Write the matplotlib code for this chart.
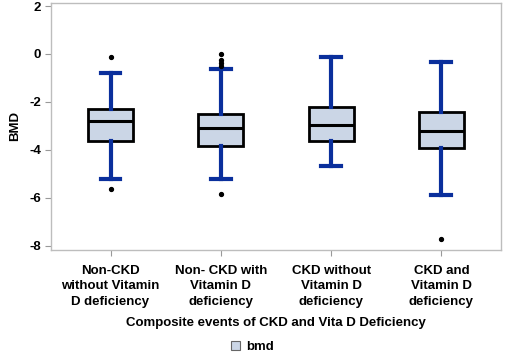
import matplotlib
matplotlib.use("Agg")
import matplotlib.pyplot as plt
from matplotlib.patches import Patch

categories = ["Non-CKD\nwithout Vitamin\nD deficiency",
              "Non- CKD with\nVitamin D\ndeficiency",
              "CKD without\nVitamin D\ndeficiency",
              "CKD and\nVitamin D\ndeficiency"]
q1 = [-3.64, -3.82, -3.64, -3.92]
med = [-2.80, -3.10, -2.96, -3.21]
q3 = [-2.29, -2.50, -2.21, -2.42]
whislo = [-5.21, -5.21, -4.69, -5.90]
whishi = [-0.80, -0.61, -0.11, -0.32]
fliers = [[-0.14, -5.63], [-0.01, -0.25, -0.39, -0.49, -5.82], [], [-7.71]]
yticks = [2, 0, -2, -4, -6, -8]

plt.rcParams['font.family'] = ['Liberation Sans', 'DejaVu Sans']
plt.rcParams['font.weight'] = 'bold'
FS = 9.5

fig = plt.figure(figsize=(5.05, 3.54), dpi=100)
ax = fig.add_axes([0.101, 0.294, 0.891, 0.6975])

stats = []
for i in range(len(categories)):
    stats.append(dict(q1=q1[i], med=med[i], q3=q3[i], whislo=whislo[i],
                      whishi=whishi[i], fliers=fliers[i], label=categories[i]))

blue = "#0a2f9c"
ax.bxp(stats, positions=range(len(categories)), widths=0.41, patch_artist=True,
       boxprops=dict(facecolor="#cbd6e6", edgecolor="black", linewidth=2.0),
       medianprops=dict(color="black", linewidth=2.2),
       whiskerprops=dict(color=blue, linewidth=3.0),
       capprops=dict(color=blue, linewidth=3.0),
       flierprops=dict(marker='o', markerfacecolor='black', markeredgecolor='black', markersize=2.8),
       capwidths=0.18, zorder=3)

ax.set_xlim(-0.54, 3.54)
ax.set_ylim(-8.17, 2.125)
ax.set_yticks(yticks)
ax.set_yticklabels([str(t) for t in yticks], fontsize=FS, fontweight='bold')
ax.set_xticks(range(len(categories)))
ax.set_xticklabels(categories, fontsize=FS, fontweight='bold', linespacing=1.36)
for s in ax.spines.values():
    s.set_color("#bdbdbd")
    s.set_linewidth(1.0)
ax.tick_params(axis='both', colors="#999999", length=4, width=0.8, labelcolor='black')
ax.tick_params(axis='x', pad=7)
ax.tick_params(axis='y', pad=3)
ax.set_ylabel("BMD", fontsize=FS, fontweight='bold', labelpad=6)
ax.set_xlabel("Composite events of CKD and Vita D Deficiency", fontsize=FS,
              fontweight='bold', labelpad=7)

fig.legend(handles=[Patch(facecolor="#cbd6e6", edgecolor="#666666", linewidth=0.8)],
           labels=["bmd"], loc='center', bbox_to_anchor=(0.5, 0.02), frameon=False,
           handlelength=0.7, handleheight=0.7, handletextpad=0.5,
           prop=dict(size=FS, weight='bold'))

fig.savefig("out.png", dpi=100)
